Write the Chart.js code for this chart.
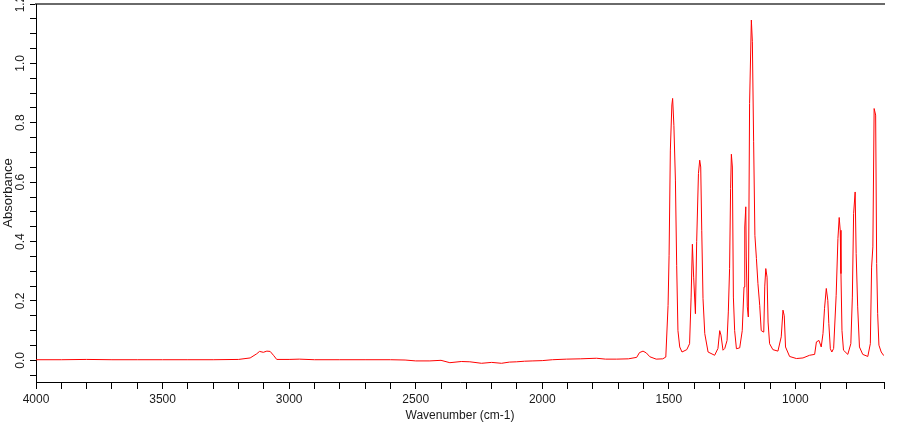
<!DOCTYPE html>
<html>
<head>
<meta charset="utf-8">
<title>Spettro IR</title>
<script src="https://cdn.jsdelivr.net/npm/chart.js@4/dist/chart.umd.min.js"></script>
<style>
    body { margin: 0; background: #fff; }
    canvas { display: block; }
</style>
</head>
<body>
<canvas id="ir-chart" width="900" height="425"></canvas>
<script>
// Numeri d'onda (cm-1), dal più alto al più basso
const wavenumbers = [
    4000, 3900, 3800, 3700, 3600, 3500, 3400, 3300, 3200, 3154, 3128, 3117, 3102, 3088, 3075, 3062, 3049,
    3000, 2960, 2900, 2800, 2700, 2600, 2542, 2500, 2444, 2400, 2365, 2320, 2286, 2240, 2200, 2161, 2130,
    2101, 2070, 2037, 2000, 1960, 1904, 1850, 1786, 1750, 1706, 1660, 1627, 1616, 1602, 1589, 1575, 1550,
    1524, 1512, 1503, 1499, 1494, 1488, 1485, 1480, 1474, 1469, 1464, 1457, 1448, 1429, 1418, 1412, 1407,
    1402, 1395, 1390, 1383, 1378, 1374, 1370, 1365, 1358, 1345, 1319, 1306, 1299, 1294, 1286, 1279, 1270,
    1265, 1260, 1256, 1253, 1249, 1245, 1240, 1233, 1220, 1210, 1203, 1200, 1196, 1194, 1190, 1186, 1181,
    1174, 1170, 1165, 1160, 1154, 1148, 1141, 1135, 1125, 1121, 1117, 1112, 1108, 1102, 1089, 1069, 1056,
    1049, 1044, 1039, 1023, 996, 970, 944, 924, 917, 907, 898, 891, 885, 878, 872, 868, 862, 856, 849,
    839, 832, 827, 823, 820, 816, 810, 793, 781, 775, 770, 764, 760, 754, 747, 734, 714, 704, 699, 694,
    689, 683, 679, 675, 670, 661, 652, 650
];

// Assorbanza
const absorbance = [
    0.002, 0.002, 0.003, 0.002, 0.002, 0.002, 0.002, 0.002, 0.003, 0.008, 0.022, 0.030, 0.027, 0.031, 0.030, 0.017, 0.003,
    0.003, 0.004, 0.002, 0.002, 0.002, 0.002, 0.001, -0.002, -0.002, 0.000, -0.008, -0.004, -0.005, -0.010, -0.007, -0.010, -0.006,
    -0.005, -0.003, -0.002, -0.001, 0.002, 0.004, 0.005, 0.007, 0.004, 0.004, 0.005, 0.010, 0.026, 0.031, 0.025, 0.012, 0.004,
    0.005, 0.011, 0.185, 0.354, 0.708, 0.860, 0.882, 0.790, 0.607, 0.320, 0.100, 0.045, 0.028, 0.036, 0.056, 0.213, 0.391,
    0.280, 0.157, 0.400, 0.629, 0.674, 0.651, 0.438, 0.208, 0.090, 0.028, 0.017, 0.040, 0.100, 0.085, 0.034, 0.040, 0.067,
    0.163, 0.309, 0.579, 0.694, 0.651, 0.213, 0.100, 0.039, 0.042, 0.100, 0.247, 0.449, 0.517, 0.348, 0.180, 0.146, 0.865,
    1.146, 1.073, 0.736, 0.421, 0.343, 0.258, 0.185, 0.100, 0.095, 0.250, 0.309, 0.280, 0.129, 0.056, 0.036, 0.031, 0.079,
    0.169, 0.150, 0.045, 0.013, 0.006, 0.008, 0.017, 0.020, 0.062, 0.067, 0.045, 0.090, 0.174, 0.242, 0.202, 0.124, 0.039, 0.028, 0.040,
    0.219, 0.410, 0.481, 0.438, 0.292, 0.100, 0.034, 0.020, 0.056, 0.213, 0.494, 0.567, 0.360, 0.180, 0.045, 0.020, 0.013, 0.056, 0.314, 0.382,
    0.848, 0.826, 0.326, 0.157, 0.051, 0.028, 0.017, 0.016
];

// Etichette degli assi
const xMajorTicks = [4000, 3500, 3000, 2500, 2000, 1500, 1000];
const yMajorTicks = [0.0, 0.2, 0.4, 0.6, 0.8, 1.0, 1.2];

const points = wavenumbers.map((wn, i) => ({ x: wn, y: absorbance[i] }));

const fontFamily = '"Liberation Sans", Arial, sans-serif';
const textColor = '#1a1a1a';

const ctx = document.getElementById('ir-chart').getContext('2d');
new Chart(ctx, {
    type: 'line',
    data: {
        datasets: [{
            data: points,
            borderColor: '#ff0000',
            borderWidth: 1,
            pointRadius: 0,
            tension: 0,
            fill: false
        }]
    },
    options: {
        responsive: false,
        devicePixelRatio: 1,
        animation: false,
        layout: { padding: { top: 4, right: 16, left: 0, bottom: 0 } },
        plugins: {
            legend: { display: false },
            tooltip: { enabled: false }
        },
        scales: {
            x: {
                type: 'linear',
                reverse: true,
                min: 650,
                max: 4000,
                grid: { drawOnChartArea: false, color: '#000', tickColor: '#000', tickLength: 7 },
                border: { color: '#000', width: 1 },
                ticks: {
                    stepSize: 100,
                    maxTicksLimit: 1000,
                    autoSkip: false,
                    maxRotation: 0,
                    padding: 3,
                    color: textColor,
                    font: { family: fontFamily, size: 12 },
                    callback: (v) => xMajorTicks.includes(v) ? String(v) : ''
                },
                title: {
                    display: true,
                    text: 'Wavenumber (cm-1)',
                    color: textColor,
                    font: { family: fontFamily, size: 12 },
                    padding: { top: 0, bottom: 2 }
                },
                afterFit: (scale) => { scale.height = 43; }
            },
            x2: {
                type: 'linear',
                position: 'top',
                min: 0,
                max: 1,
                grid: { display: false, drawTicks: false },
                border: { color: '#6a6a6a', width: 2 },
                ticks: { display: false },
                afterFit: (scale) => { scale.height = 0; }
            },
            y: {
                min: -0.073,
                max: 1.2,
                grid: { drawOnChartArea: false, color: '#000', tickColor: '#000', tickLength: 6 },
                border: { color: '#000', width: 1 },
                ticks: {
                    stepSize: 0.05,
                    includeBounds: false,
                    maxTicksLimit: 1000,
                    autoSkip: false,
                    minRotation: 90,
                    maxRotation: 90,
                    crossAlign: 'center',
                    padding: 1,
                    color: textColor,
                    font: { family: fontFamily, size: 12 },
                    callback: (v) => {
                        const major = yMajorTicks.find(t => Math.abs(t - v) < 1e-6);
                        return major === undefined ? '' : major.toFixed(1);
                    }
                },
                title: {
                    display: true,
                    text: 'Absorbance',
                    color: textColor,
                    font: { family: fontFamily, size: 13 },
                    padding: { top: 1, bottom: 0 }
                },
                afterFit: (scale) => {
                    scale.width = 36;
                    scale.paddingTop = 0;
                    scale.paddingBottom = 0;
                }
            }
        }
    }
});
</script>
</body>
</html>
